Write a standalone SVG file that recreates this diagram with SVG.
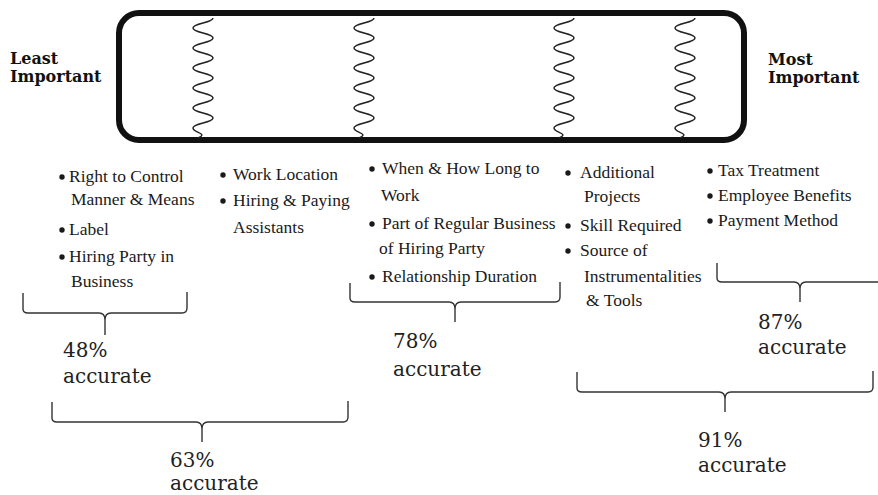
<svg xmlns="http://www.w3.org/2000/svg" width="878" height="495" viewBox="0 0 878 495">
<style>
.bar{fill:none;stroke:#111;stroke-width:6}
.wave{fill:none;stroke:#222;stroke-width:1.5}
.brace{fill:none;stroke:#333;stroke-width:1.4;stroke-linejoin:round}
.end{font-family:"DejaVu Serif",serif;font-weight:bold;font-size:16px;fill:#111}
.item{font-family:"Liberation Serif","Times New Roman",serif;font-size:17.5px;fill:#1a1a1a}
.pct{font-family:"DejaVu Serif","Liberation Serif",serif;font-size:20px;fill:#222}
.dot{fill:#1a1a1a}
</style>
<defs>
<path id="wv" class="wave" d="M10,18 C10,23 -10,23 -10,28 C-10,33 10,33 10,38 C10,43 -10,43 -10,48 C-10,53 10,53 10,58 C10,63 -10,63 -10,68 C-10,73 10,73 10,78 C10,83 -10,83 -10,88 C-10,93 10,93 10,98 C10,103 -10,103 -10,108 C-10,113 10,113 10,118 C10,123 -10,123 -10,128 C-10,133 6,133 -5,138"/>
</defs>
<rect width="878" height="495" fill="#fff"/>

<g id="scale">
<rect class="bar" x="119" y="13" width="625" height="127" rx="20" ry="20"/>
<use href="#wv" x="203"/>
<use href="#wv" x="364"/>
<use href="#wv" x="564"/>
<use href="#wv" x="685"/>
</g>

<g id="least-important">
<text class="end" x="10" y="64">Least</text>
<text class="end" x="10" y="82">Important</text>
</g>
<g id="most-important">
<text class="end" x="768" y="65">Most</text>
<text class="end" x="768" y="83">Important</text>
</g>

<g id="list-1">
<circle class="dot" cx="62" cy="177" r="2.7"/>
<text class="item" x="69" y="182">Right to Control</text>
<text class="item" x="71" y="205">Manner &amp; Means</text>
<circle class="dot" cx="62" cy="230" r="2.7"/>
<text class="item" x="69" y="235">Label</text>
<circle class="dot" cx="62" cy="257" r="2.7"/>
<text class="item" x="69" y="262">Hiring Party in</text>
<text class="item" x="71" y="287">Business</text>
</g>

<g id="list-2">
<circle class="dot" cx="223" cy="175" r="2.7"/>
<text class="item" x="233" y="180">Work Location</text>
<circle class="dot" cx="223" cy="201" r="2.7"/>
<text class="item" x="233" y="206">Hiring &amp; Paying</text>
<text class="item" x="233" y="233">Assistants</text>
</g>

<g id="list-3">
<circle class="dot" cx="372" cy="169" r="2.7"/>
<text class="item" x="382" y="174">When &amp; How Long to</text>
<text class="item" x="381" y="201">Work</text>
<circle class="dot" cx="372" cy="224" r="2.7"/>
<text class="item" x="382" y="229">Part of Regular Business</text>
<text class="item" x="379" y="254">of Hiring Party</text>
<circle class="dot" cx="372" cy="277" r="2.7"/>
<text class="item" x="382" y="282">Relationship Duration</text>
</g>

<g id="list-4">
<circle class="dot" cx="568" cy="173" r="2.7"/>
<text class="item" x="580" y="178">Additional</text>
<text class="item" x="584" y="202">Projects</text>
<circle class="dot" cx="568" cy="226" r="2.7"/>
<text class="item" x="580" y="231">Skill Required</text>
<circle class="dot" cx="568" cy="251" r="2.7"/>
<text class="item" x="580" y="256">Source of</text>
<text class="item" x="584" y="282">Instrumentalities</text>
<text class="item" x="586" y="306">&amp; Tools</text>
</g>

<g id="list-5">
<circle class="dot" cx="710" cy="171" r="2.7"/>
<text class="item" x="718" y="176">Tax Treatment</text>
<circle class="dot" cx="710" cy="196" r="2.7"/>
<text class="item" x="718" y="201">Employee Benefits</text>
<circle class="dot" cx="710" cy="221" r="2.7"/>
<text class="item" x="718" y="226">Payment Method</text>
</g>

<g id="connectors">
<path class="brace" d="M23,293 L23,309 Q23,313 28,313 L99,313 Q105,313 105,320 L105,335 M105,320 Q105,313 111,313 L182,313 Q187,313 187,308 L187,292"/>
<path class="brace" d="M350,283 L350,298 Q350,302 355,302 L449,302 Q455,302 455,309 L455,322 M455,309 Q455,302 461,302 L555,302 Q560,302 560,297 L560,282"/>
<path class="brace" d="M717,263 L717,278 Q717,282 722,282 L794,282 Q800,282 800,289 L800,302 M800,289 Q800,282 806,282 L878,282"/>
<path class="brace" d="M52,402 L52,418 Q52,422 57,422 L196,422 Q202,422 202,429 L202,442 M202,429 Q202,422 208,422 L343,422 Q348,422 348,417 L348,401"/>
<path class="brace" d="M577,372 L577,388 Q577,392 582,392 L719,392 Q725,392 725,399 L725,412 M725,399 Q725,392 731,392 L868,392 Q873,392 873,387 L873,371"/>
</g>

<g id="pct-48">
<text class="pct" x="63" y="357">48%</text>
<text class="pct" x="63" y="383">accurate</text>
</g>
<g id="pct-78">
<text class="pct" x="393" y="348">78%</text>
<text class="pct" x="393" y="376">accurate</text>
</g>
<g id="pct-87">
<text class="pct" x="758" y="329">87%</text>
<text class="pct" x="758" y="354">accurate</text>
</g>
<g id="pct-63">
<text class="pct" x="170" y="467">63%</text>
<text class="pct" x="170" y="490">accurate</text>
</g>
<g id="pct-91">
<text class="pct" x="698" y="447">91%</text>
<text class="pct" x="698" y="472">accurate</text>
</g>
</svg>
